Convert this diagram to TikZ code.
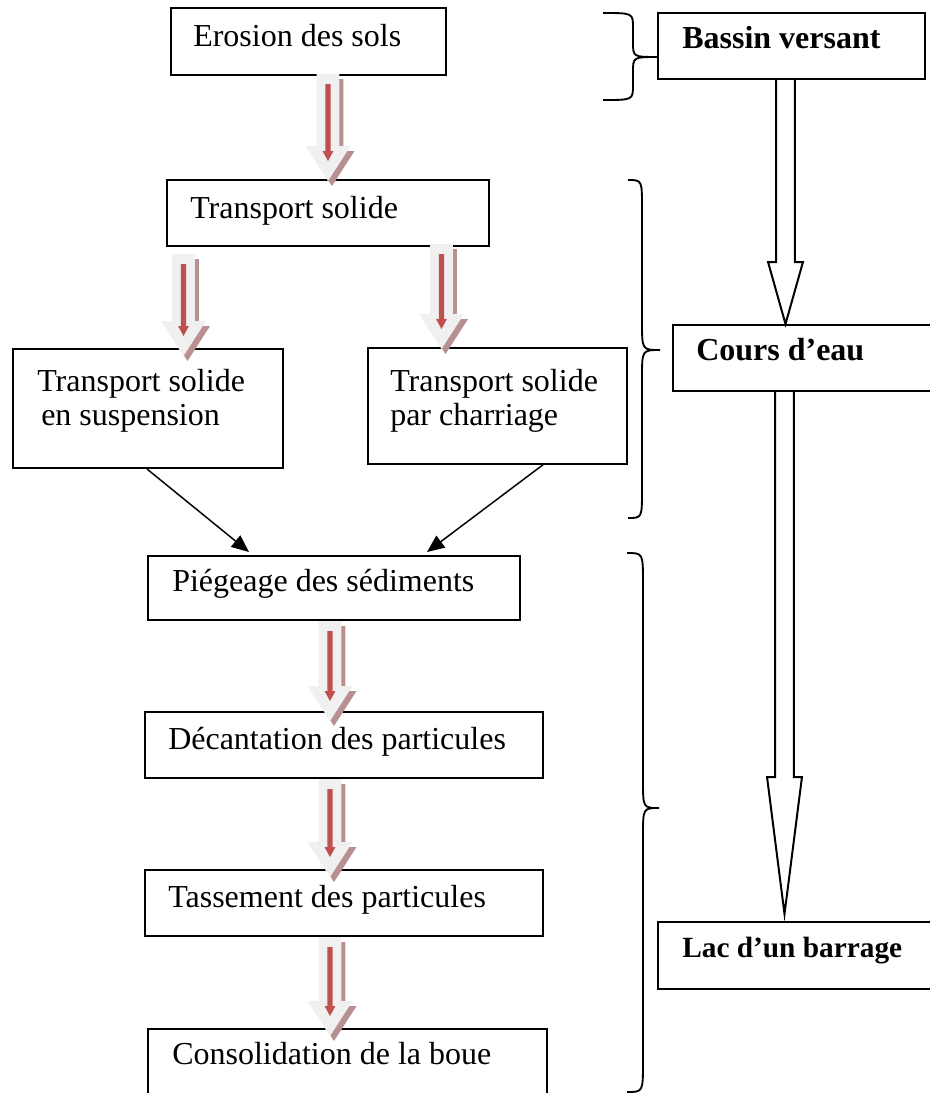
\documentclass[tikz,border=0pt]{standalone}
\usepackage{fontspec}
\setmainfont{Liberation Serif}
\usetikzlibrary{calc,fit,arrows.meta}
\definecolor{arrowred}{RGB}{192,80,77}
\definecolor{arrowbody}{RGB}{240,240,240}
\definecolor{arrowshade}{RGB}{184,144,144}

\newcommand{\fatdown}[2]{%
\fill[arrowshade] let \p1=(#1), \p2=(#2) in (\x1-5.6pt,\y1-3.75pt) -- (\x1-5.6pt,\y2+22.5pt) -- (\x1-13.9pt,\y2+22.5pt) -- (\x1+3pt,\y2-3.75pt) -- (\x1+19.9pt,\y2+22.5pt) -- (\x1+11.6pt,\y2+22.5pt) -- (\x1+11.6pt,\y1-3.75pt) -- cycle;
\fill[arrowbody] let \p1=(#1), \p2=(#2) in (\x1-8.6pt,\y1) -- (\x1-8.6pt,\y2+26.25pt) -- (\x1-16.9pt,\y2+26.25pt) -- (\x1,\y2) -- (\x1+16.9pt,\y2+26.25pt) -- (\x1+8.6pt,\y2+26.25pt) -- (\x1+8.6pt,\y1) -- cycle;
\fill[arrowred] let \p1=(#1), \p2=(#2) in (\x1-1.9pt,\y1-7.5pt) -- (\x1-1.9pt,\y2+22.5pt) -- (\x1-4.1pt,\y2+22.5pt) -- (\x1,\y2+15pt) -- (\x1+4.1pt,\y2+22.5pt) -- (\x1+1.9pt,\y2+22.5pt) -- (\x1+1.9pt,\y1-7.5pt) -- cycle;
}
\newcommand{\hollowdown}[3]{%
\draw[hollow] let \p1=(#1), \p2=(#2) in (\x1-7.1pt,\y1) -- (\x1-7.1pt,\y2+#3) -- (\x1-13.1pt,\y2+#3) -- (\x1,\y2) -- (\x1+13.1pt,\y2+#3) -- (\x1+7.1pt,\y2+#3) -- (\x1+7.1pt,\y1);
}

\begin{document}
\begin{tikzpicture}[x=0.75pt,y=-0.75pt,
  box/.style={draw,line width=1.5pt,inner sep=0pt},
  txt/.style={anchor=base west,inner sep=0pt,font=\fontsize{24}{29}\selectfont},
  twolines/.style={txt,align=left,font=\fontsize{24}{25.5}\selectfont},
  bold/.style={txt,font=\fontsize{24}{29}\selectfont\bfseries},
  hollow/.style={draw,line width=1.5pt,fill=white,line join=miter},
  thinarrow/.style={line width=1.1pt,-{Triangle[length=13pt,width=11pt]}},
  bracket/.style={line width=1.4pt}]
\clip (0,0) rectangle (930,1093);

\node[box,fit={(171,8) (446,75)}] (erosion) {};
\node[box,fit={(167,180) (489,246)}] (transport) {};
\node[box,fit={(13,349) (283,468)}] (susp) {};
\node[box,fit={(368,348) (627,464)}] (charr) {};
\node[box,fit={(148,556) (520,620)}] (piege) {};
\node[box,fit={(145,712) (543,778)}] (decant) {};
\node[box,fit={(145,870) (543,936)}] (tass) {};
\node[box,fit={(148,1029) (547,1100)}] (consol) {};
\node[box,fit={(658,13) (925,79)}] (bassin) {};
\node[box,fit={(673,325) (940,391)}] (cours) {};
\node[box,fit={(658,922) (940,989)}] (lac) {};

\node[txt] (erosiontxt) at (193,46) {Erosion des sols};
\node[txt] (transporttxt) at (190,218) {Transport solide};
\node[twolines] (susptxt) at (37,425) {Transport solide\\\hspace{3pt}en suspension};
\node[twolines] (charrtxt) at (390,425) {Transport solide\\par charriage};
\node[txt] (piegetxt) at (172,591) {Piégeage des sédiments};
\node[txt] (decanttxt) at (168,749) {Décantation des particules};
\node[txt] (tasstxt) at (168,907) {Tassement des particules};
\node[txt] (consoltxt) at (172,1064) {Consolidation de la boue};
\node[bold] (bassintxt) at (682,48) {Bassin versant};
\node[bold] (courstxt) at (696,360) {Cours d’eau};
\node[bold,font=\fontsize{22}{26}\selectfont\bfseries] (lactxt) at (682,957) {Lac d’un barrage};

\fatdown{$(erosion.south)+(19.5,-2)$}{$(transport.north)+(0,2)$}
\fatdown{$(transport.south west)+(17.5,7)$}{$(susp.north)+(0,8)$}
\fatdown{$(transport.south east)+(-48.5,-3)$}{$(charr.north)+(0,2)$}
\fatdown{$(piege.south)+(-4,0)$}{$(decant.north)+(0,10)$}
\fatdown{$(decant.south)+(-14,0)$}{$(tass.north)+(0,8)$}
\fatdown{$(tass.south)+(-14,0)$}{$(consol.north)+(0,8)$}

\draw[thinarrow] ($(susp.south west)+(135,0)$) -- ($(piege.north west)+(102,-3)$);
\draw[thinarrow] ($(charr.south east)+(-84,-1)$) -- ($(piege.north west)+(280,-3)$);

\hollowdown{$(bassin.south)+(-6,0)$}{cours.north}{46.5pt}
\hollowdown{$(cours.south west)+(112.5,0)$}{$(lac.north)+(0,-7)$}{102.75pt}

\draw[bracket] (603,13) .. controls (633,13) .. (633,28) -- (633,42) .. controls (633,57) .. (658,57) .. controls (633,57) .. (633,72) -- (633,85) .. controls (633,100) .. (603,100);
\draw[bracket] (628,180) .. controls (642,180) .. (642,208) -- (642,322) .. controls (642,350) .. (660,350) .. controls (642,350) .. (642,378) -- (642,490) .. controls (642,518) .. (628,518);
\draw[bracket] (627,553) .. controls (643,553) .. (643,583) -- (643,780) .. controls (643,808) .. (659,808) .. controls (643,808) .. (643,836) -- (643,1062) .. controls (643,1092) .. (627,1092);
\end{tikzpicture}
\end{document}
